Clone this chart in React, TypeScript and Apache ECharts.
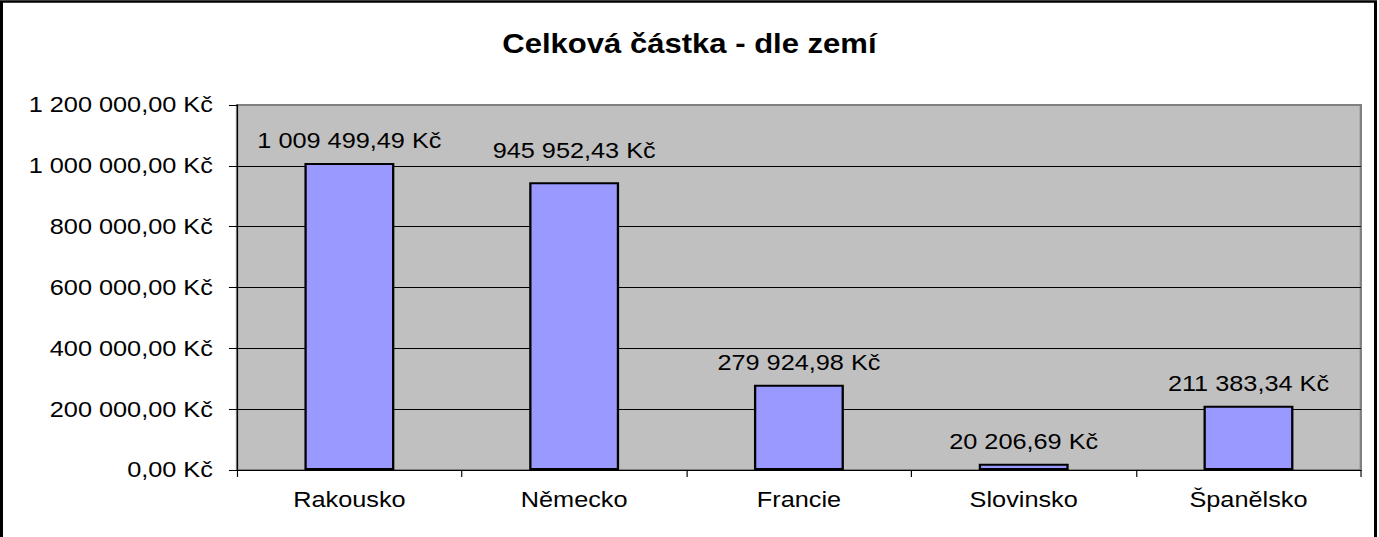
import React, { useEffect, useRef } from "react";
import * as echarts from "echarts";

const titleText = "Celková částka - dle zemí";
const countries = ["Rakousko", "Německo", "Francie", "Slovinsko", "Španělsko"];
const totals = [1009499.49, 945952.43, 279924.98, 20206.69, 211383.34];
const labelDistances = [11, 21, 11, 11, 11];
const yMin = 0;
const yMax = 1200000;
const yStep = 200000;

const W = 1379;
const H = 537;
const SX = 1.15;
const FONT = "'Liberation Sans', Arial, sans-serif";

function czk(v: number): string {
  const fixed = Math.abs(v).toFixed(2);
  const [intPart, dec] = fixed.split(".");
  const grouped = intPart.replace(/\B(?=(\d{3})+(?!\d))/g, " ");
  return (v < 0 ? "-" : "") + grouped + "," + dec + " Kč";
}

export default function App() {
  const ref = useRef<HTMLDivElement>(null);

  useEffect(() => {
    document.body.style.margin = "0";
    if (!ref.current) return;
    const chart = echarts.init(ref.current, undefined, { renderer: "svg" });
    const innerW = W / SX;
    chart.setOption({
      animation: false,
      backgroundColor: "#ffffff",
      title: {
        text: titleText,
        left: "center",
        top: 25,
        textStyle: {
          fontFamily: FONT,
          fontSize: 27,
          fontWeight: "bold",
          color: "#000000",
        },
      },
      graphic: [
        {
          type: "rect",
          shape: { x: 1.5 / SX, y: 1.5, width: 1374 / SX, height: 600 },
          style: { fill: "none", stroke: "#000000", lineWidth: 2.6 },
          silent: true,
          z: 100,
        },
      ],
      grid: {
        left: 237 / SX,
        right: innerW - 1361 / SX,
        top: 105,
        bottom: H - 470,
        show: true,
        backgroundColor: "#C0C0C0",
        borderColor: "#808080",
        borderWidth: 2,
        containLabel: false,
      },
      xAxis: {
        type: "category",
        data: countries,
        axisLine: { show: true, lineStyle: { color: "#000000", width: 1 } },
        axisTick: {
          show: true,
          alignWithLabel: false,
          length: 7,
          lineStyle: { color: "#000000" },
        },
        axisLabel: {
          fontFamily: FONT,
          fontSize: 22,
          color: "#000000",
          margin: 19,
        },
        splitLine: { show: false },
      },
      yAxis: {
        type: "value",
        min: yMin,
        max: yMax,
        interval: yStep,
        axisLine: { show: true, lineStyle: { color: "#000000", width: 1 } },
        axisTick: { show: true, length: 7, lineStyle: { color: "#000000" } },
        axisLabel: {
          fontFamily: FONT,
          fontSize: 22,
          color: "#000000",
          margin: 21,
          formatter: (v: number) => czk(v),
        },
        splitLine: {
          show: true,
          showMaxLine: false,
          lineStyle: { color: "#000000", width: 1 },
        },
      },
      series: [
        {
          type: "bar",
          barCategoryGap: "60%",
          data: totals.map((v, i) => ({
            value: v,
            label: { distance: labelDistances[i] },
          })),
          itemStyle: {
            color: "#9999FF",
            borderColor: "#000000",
            borderWidth: 2,
          },
          label: {
            show: true,
            position: "top",
            fontFamily: FONT,
            fontSize: 22,
            color: "#000000",
            formatter: (p: any) => czk(p.value),
          },
        },
      ],
    });
    return () => chart.dispose();
  }, []);

  return (
    <div
      style={{
        width: W,
        height: H,
        overflow: "hidden",
        position: "relative",
        background: "#ffffff",
      }}
    >
      <div
        ref={ref}
        style={{
          width: W / SX,
          height: H,
          transform: `scaleX(${SX})`,
          transformOrigin: "left top",
        }}
      />
    </div>
  );
}
